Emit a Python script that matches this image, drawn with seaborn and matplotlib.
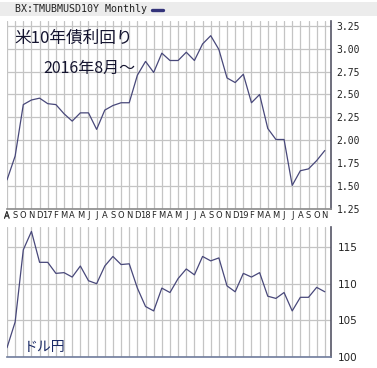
import matplotlib
matplotlib.use("Agg")
import matplotlib.pyplot as plt
import seaborn as sns
import pandas as pd
import numpy as np
from matplotlib.patches import Rectangle

# ---- data ----
month_labels = ["A", "S", "O", "N", "D", "17", "F", "M", "A", "M", "J", "J",
                "A", "S", "O", "N", "D", "18", "F", "M", "A", "M", "J", "J",
                "A", "S", "O", "N", "D", "19", "F", "M", "A", "M", "J", "J",
                "A", "S", "O", "N"]
us10y = [1.57, 1.83, 2.39, 2.44, 2.46, 2.40, 2.39, 2.29, 2.21, 2.30, 2.30, 2.12,
         2.33, 2.38, 2.41, 2.41, 2.71, 2.86, 2.74, 2.95, 2.87, 2.87, 2.96, 2.87,
         3.05, 3.14, 2.99, 2.68, 2.63, 2.72, 2.41, 2.50, 2.13, 2.01, 2.01, 1.51,
         1.67, 1.69, 1.78, 1.89]
usdjpy = [101.3, 104.8, 114.6, 117.1, 112.9, 112.9, 111.4, 111.5, 110.9, 112.4,
          110.4, 110.0, 112.4, 113.7, 112.6, 112.7, 109.4, 106.9, 106.3, 109.4,
          108.8, 110.7, 112.0, 111.2, 113.7, 113.1, 113.5, 109.7, 108.9, 111.4,
          110.9, 111.5, 108.3, 108.0, 108.8, 106.3, 108.15, 108.15, 109.5, 108.9]
top_ticks = [1.25, 1.50, 1.75, 2.00, 2.25, 2.50, 2.75, 3.00, 3.25]
bot_ticks = [100, 105, 110, 115]

df = pd.DataFrame({"m": np.arange(len(month_labels)), "y10": us10y, "jpy": usdjpy})

sns.set_theme(style="white")
plt.rcParams["font.family"] = ["DejaVu Sans"]

W, H = 377, 368
fig = plt.figure(figsize=(W / 100, H / 100), dpi=100)
fig.patch.set_facecolor("white")

LINE = "#48487a"
GRID = "#c4c4c4"
x0, x1 = 7, 331
xlim = (0.24, 39.76)

def axpos(ytop, ybot):
    return [x0 / W, (H - ybot) / H, (x1 - x0) / W, (ybot - ytop) / H]

# header band
fig.patches.append(Rectangle((0, (H - 16) / H), 1, 14 / H, transform=fig.transFigure,
                             facecolor="#ececec", edgecolor="none", zorder=0))
fig.text(15 / W, (H - 9.5) / H, "BX:TMUBMUSD10Y Monthly", family="DejaVu Sans Mono",
         fontsize=7.2, color="#222222", va="center", ha="left")
fig.lines.append(plt.Line2D([152 / W, 163 / W], [(H - 9.5) / H] * 2, transform=fig.transFigure,
                            color="#33337a", linewidth=2.4))

# ---- top panel ----
ax1 = fig.add_axes(axpos(21, 209.3))
sns.lineplot(data=df, x="m", y="y10", ax=ax1, color=LINE, linewidth=0.9)
ax1.set_xlim(*xlim)
ax1.set_ylim(1.25, 3.30)
ax1.set_xticks(df["m"])
ax1.set_xticklabels(month_labels)
ax1.set_yticks(top_ticks)
ax1.set_yticklabels([f"{v:.2f}" for v in top_ticks])
ax1.yaxis.tick_right()
ax1.tick_params(axis="y", length=0, pad=4, labelsize=7, labelcolor="#222222")
for t in ax1.get_yticklabels():
    t.set_family("DejaVu Sans Mono")
ax1.tick_params(axis="x", length=0, pad=1.5, labelsize=6, labelcolor="#222222")
ax1.text(0, -0.0155, month_labels[0], transform=ax1.get_xaxis_transform(),
         fontsize=6, color="#222222", ha="center", va="top", clip_on=False)
ax1.grid(True, color=GRID, linewidth=0.9)
ax1.set_xlabel("")
ax1.set_ylabel("")
for s in ["left", "top"]:
    ax1.spines[s].set_visible(False)
ax1.spines["bottom"].set_color("#8a8a8a")
ax1.spines["bottom"].set_linewidth(1.2)
ax1.spines["right"].set_color("#555566")
ax1.spines["right"].set_linewidth(1.2)
ax1.text(12 / (x1 - x0) - 5 / (x1 - x0), 1 - (38 - 21) / 188.3, "米10年債利回り",
         transform=ax1.transAxes, family=["Noto Sans CJK JP", "DejaVu Sans"],
         fontsize=12, color="#151530", va="center", ha="left")
ax1.text((43 - x0) / (x1 - x0), 1 - (68 - 21) / 188.3, "2016年8月～",
         transform=ax1.transAxes, family=["Noto Sans CJK JP", "DejaVu Sans"],
         fontsize=11.5, color="#151530", va="center", ha="left")

# ---- bottom panel ----
ax2 = fig.add_axes(axpos(227, 357.3))
sns.lineplot(data=df, x="m", y="jpy", ax=ax2, color=LINE, linewidth=0.9)
ax2.set_xlim(*xlim)
ax2.set_ylim(100, 117.7)
ax2.set_xticks(df["m"])
ax2.set_xticklabels([])
ax2.set_yticks(bot_ticks)
ax2.set_yticklabels([str(v) for v in bot_ticks])
ax2.yaxis.tick_right()
ax2.tick_params(axis="y", length=0, pad=5, labelsize=7.5, labelcolor="#222222")
ax2.tick_params(axis="x", length=0)
ax2.grid(True, color=GRID, linewidth=0.9)
ax2.set_xlabel("")
ax2.set_ylabel("")
for s in ["left", "top"]:
    ax2.spines[s].set_visible(False)
ax2.spines["bottom"].set_color("#6f7c9c")
ax2.spines["bottom"].set_linewidth(1.2)
ax2.spines["right"].set_color("#555566")
ax2.spines["right"].set_linewidth(1.2)
ax2.text((24 - x0) / (x1 - x0), (357.3 - 347) / 130.3, "ドル円",
         transform=ax2.transAxes, family=["Noto Sans CJK JP", "DejaVu Sans"],
         fontsize=10, color="#1a2a66", va="center", ha="left")

fig.savefig("out.png", dpi=100, facecolor="white")
